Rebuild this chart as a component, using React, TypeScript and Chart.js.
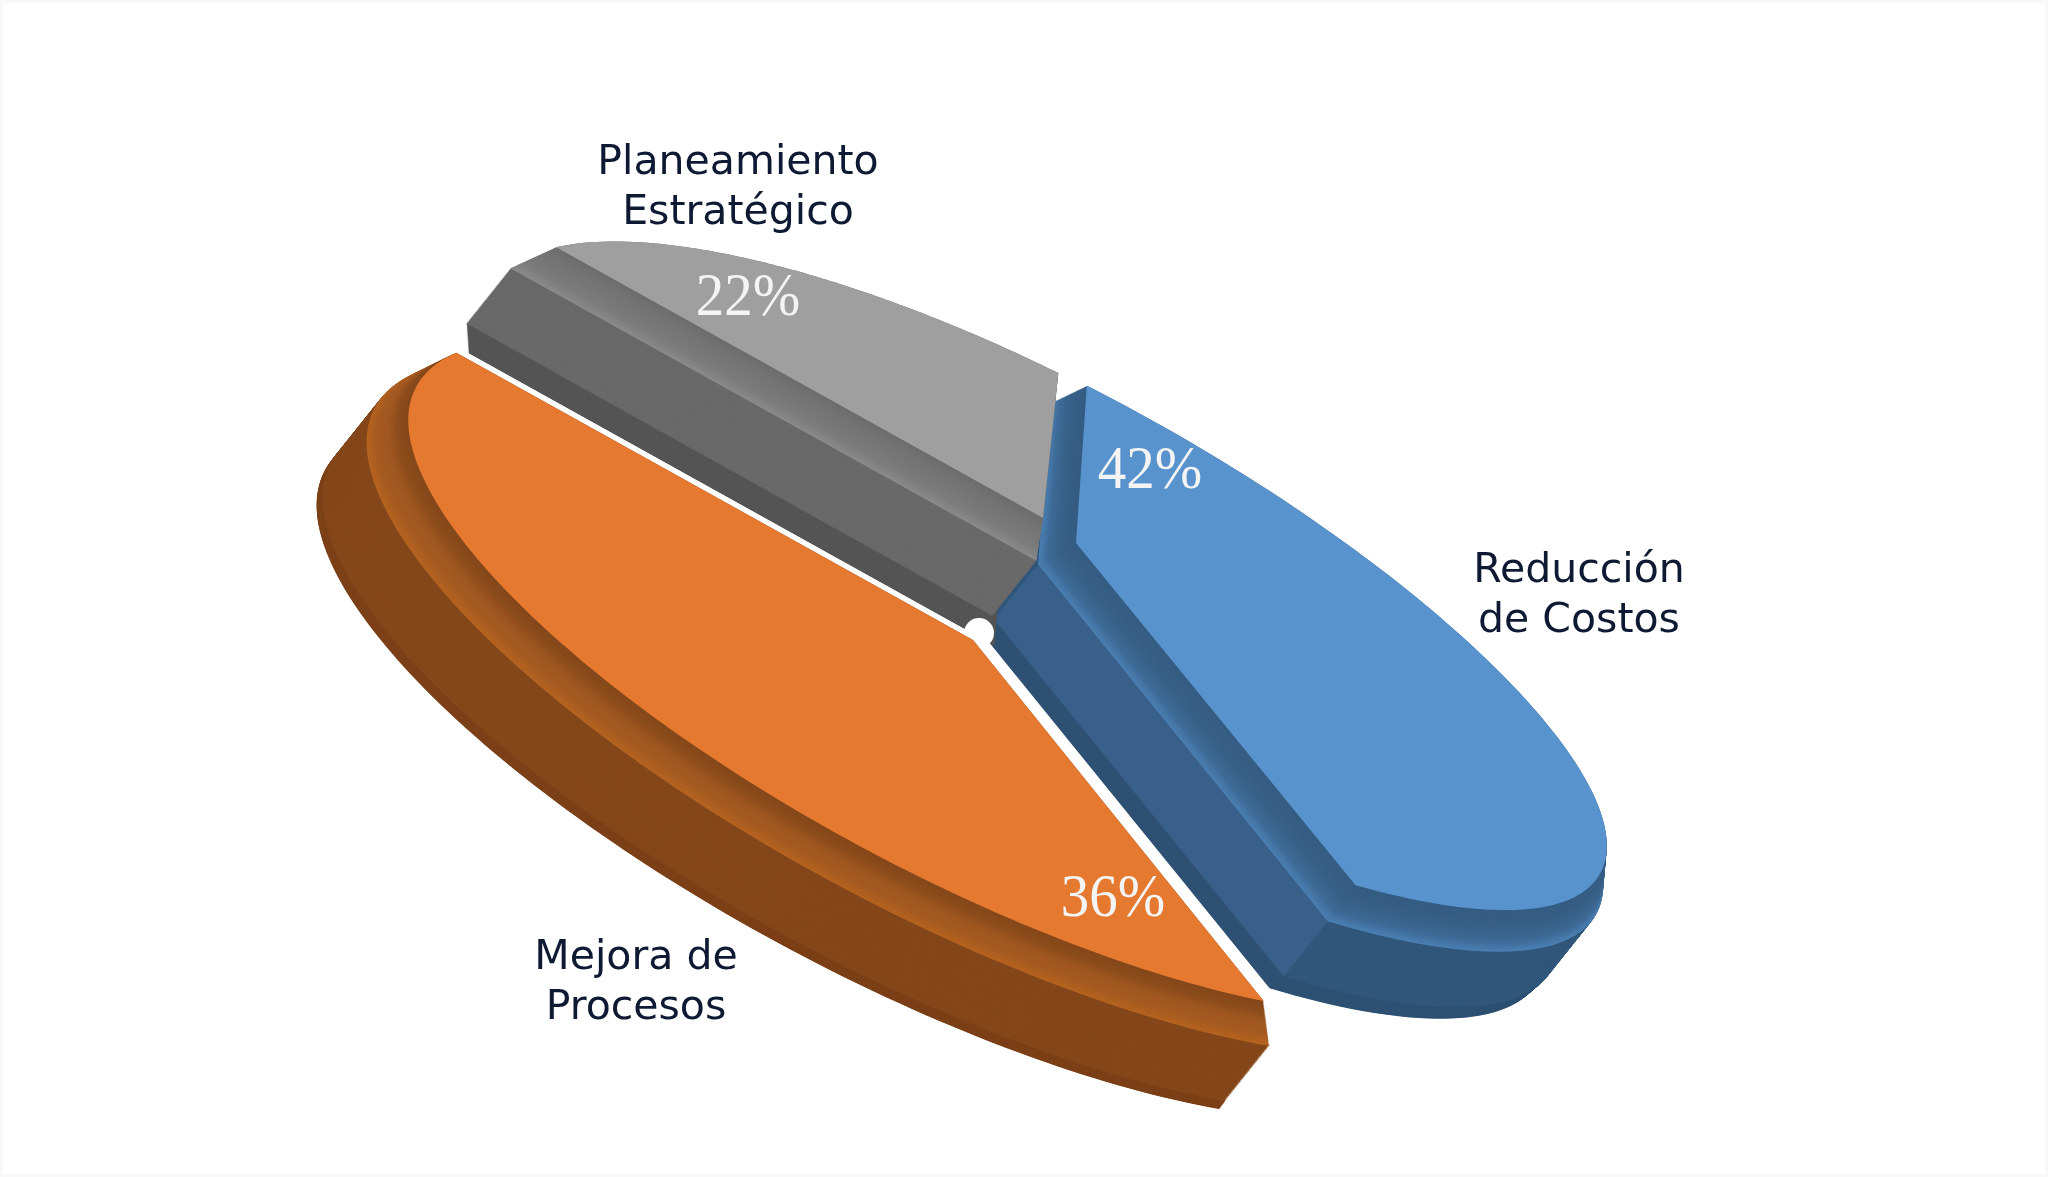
import { useEffect, useRef } from 'react';
import { Chart, registerables } from 'chart.js';

Chart.register(...registerables);

const categories = ['Reducción de Costos', 'Mejora de Procesos', 'Planeamiento Estratégico'];
const shares = [42, 36, 22];

// outer labels split on two lines, centre x and line y
const labelLines = [['Reducción', 'de Costos'], ['Mejora de', 'Procesos'], ['Planeamiento', 'Estratégico']];
const labelSpots = [[1579, 571], [636, 958], [738, 163]];
const percentSpots = [[1150, 472], [1113, 900], [748, 299]];

const faceColors = ['#5893cd', '#e57930', '#9f9f9f'];
const wallColors = ['#31577b', '#84471a', '#696969'];
const sideColors = ['#38608a', '#84471a', '#696969'];
const baseColors = ['#2e5173', '#7c4018', '#555555'];
const bevelRamps = [
  ['#4a7fb3', '#3d6a96', '#38628a', '#365e85', '#355c82'],
  ['#b5631f', '#a55a20', '#a05720', '#8c4c1b', '#84471a'],
  ['#8a8a8a', '#7c7c7c', '#777777', '#737373', '#6c6c6c'],
];
// where the tip of each slice's top face lands on the page
const faceTips = [[1076, 543], [973, 640], [1043, 518]];
const drawOrder = [0, 2, 1];

// tilted view of each slice: linear part plus perspective divide
const views = [
  { a: 526, b: -15.6, c: 271.7, d: 188, gx: -0.06, gy: -0.1632 },
  { a: 553, b: -17.3, c: 266, d: 207, gx: 0.038, gy: -0.2286 },
  { a: 531, b: -16.6, c: 255.6, d: 198.9, gx: 0.0652, gy: -0.2656 },
];
const inset = 0.03;
const bevelDepth = [-22, 28];
const wallDepth = [-44, 55];
const baseDepths = [[-14, 12], [-6, 8], [2, 30]];

function project(view: any, px: number, py: number) {
  const w = 1 + view.gx * px + view.gy * py;
  return [(view.a * px + view.b * py) / w, (view.c * px + view.d * py) / w];
}

function wedge(start: number, end: number, cut: number) {
  const half = (end - start) / 2;
  const mid = start + half;
  const k = cut / Math.sin(half);
  const pts = [[Math.cos(mid) * k, Math.sin(mid) * k]];
  const r = 1 - cut;
  const skip = Math.asin(cut / r);
  const n = 120;
  for (let i = 0; i <= n; i++) {
    const t = start + skip + ((end - start - 2 * skip) * i) / n;
    pts.push([Math.cos(t) * r, Math.sin(t) * r]);
  }
  return pts;
}

function fillWedge(ctx: CanvasRenderingContext2D, view: any, pts: number[][], ox: number, oy: number, color: string) {
  ctx.beginPath();
  pts.forEach((p, i) => {
    const q = project(view, p[0], p[1]);
    if (i === 0) ctx.moveTo(q[0] + ox, q[1] + oy);
    else ctx.lineTo(q[0] + ox, q[1] + oy);
  });
  ctx.closePath();
  ctx.fillStyle = color;
  ctx.fill();
}

function mixRamp(ramp: string[], t: number) {
  const at = t * (ramp.length - 1);
  const lo = Math.min(ramp.length - 2, Math.floor(at));
  const f = at - lo;
  const rgb = [1, 3, 5].map(n => {
    const x = parseInt(ramp[lo].slice(n, n + 2), 16);
    const y = parseInt(ramp[lo + 1].slice(n, n + 2), 16);
    return Math.round(x + (y - x) * f);
  });
  return `rgb(${rgb[0]},${rgb[1]},${rgb[2]})`;
}

const tiltedPie = {
  id: 'tiltedPie',
  beforeDatasetsDraw(chart: any) {
    const ctx = chart.ctx;
    const arcs = chart.getDatasetMeta(0).data;
    drawOrder.forEach(i => {
      const arc = arcs[i];
      const view = views[i];
      const face = wedge(arc.startAngle, arc.endAngle, inset);
      const outer = wedge(arc.startAngle, arc.endAngle, 0);
      const tip = project(view, face[0][0], face[0][1]);
      const ax = faceTips[i][0] - tip[0];
      const ay = faceTips[i][1] - tip[1];
      const bx = ax + bevelDepth[0];
      const by = ay + bevelDepth[1];
      const wx = bx + wallDepth[0];
      const wy = by + wallDepth[1];

      // white seam along the straight sides of the front slice, and the gap at its tip
      if (i === 1) {
        const a = project(view, face[1][0], face[1][1]);
        const b = project(view, face[face.length - 1][0], face[face.length - 1][1]);
        ctx.beginPath();
        ctx.moveTo(a[0] + ax, a[1] + ay);
        ctx.lineTo(tip[0] + ax, tip[1] + ay);
        ctx.lineTo(b[0] + ax, b[1] + ay);
        ctx.strokeStyle = '#ffffff';
        ctx.lineWidth = 11;
        ctx.stroke();
        ctx.beginPath();
        ctx.arc(tip[0] + ax + 6, tip[1] + ay - 7, 15, 0, Math.PI * 2);
        ctx.fillStyle = '#ffffff';
        ctx.fill();
      }

      const base = baseDepths[i];
      for (let s = 30; s >= 0; s--) {
        fillWedge(ctx, view, outer, wx + (base[0] * s) / 30, wy + (base[1] * s) / 30, baseColors[i]);
      }
      for (let s = 70; s >= 0; s--) {
        fillWedge(ctx, view, outer, bx + (wallDepth[0] * s) / 70, by + (wallDepth[1] * s) / 70, wallColors[i]);
      }
      // straight end of the slice, a little lighter than its rounded wall
      const corner = project(view, outer[outer.length - 1][0], outer[outer.length - 1][1]);
      ctx.beginPath();
      ctx.moveTo(bx, by);
      ctx.lineTo(corner[0] + bx, corner[1] + by);
      ctx.lineTo(corner[0] + wx, corner[1] + wy);
      ctx.lineTo(wx, wy);
      ctx.closePath();
      ctx.fillStyle = sideColors[i];
      ctx.fill();

      const steps = 40;
      for (let s = 0; s <= steps; s++) {
        const t = s / steps;
        const pts = wedge(arc.startAngle, arc.endAngle, inset * t);
        fillWedge(ctx, view, pts, ax + bevelDepth[0] * (1 - t), ay + bevelDepth[1] * (1 - t), mixRamp(bevelRamps[i], t));
      }
      fillWedge(ctx, view, face, ax, ay, faceColors[i]);
    });
    return false;
  },
  afterDraw(chart: any) {
    const ctx = chart.ctx;
    ctx.textAlign = 'center';
    ctx.textBaseline = 'middle';
    ctx.font = '41px "DejaVu Sans"';
    ctx.fillStyle = '#0e1a33';
    labelLines.forEach((lines, i) => {
      lines.forEach((line, j) => ctx.fillText(line, labelSpots[i][0], labelSpots[i][1] + j * 50));
    });
    ctx.font = '57px "Liberation Serif"';
    ctx.fillStyle = '#f4f4f4';
    shares.forEach((v, i) => {
      ctx.save();
      ctx.translate(percentSpots[i][0], percentSpots[i][1]);
      ctx.scale(1, 1.09);
      ctx.fillText(v + '%', 0, 0);
      ctx.restore();
    });
  },
};

export default function App() {
  const canvasRef = useRef<HTMLCanvasElement>(null);

  useEffect(() => {
    if (!canvasRef.current) return;
    const chart = new Chart(canvasRef.current, {
      type: 'pie',
      data: { labels: categories, datasets: [{ data: shares, backgroundColor: faceColors, borderWidth: 0 }] },
      options: {
        animation: false,
        responsive: false,
        devicePixelRatio: 1,
        plugins: { legend: { display: false }, tooltip: { enabled: false } },
      },
      plugins: [tiltedPie],
    });
    return () => chart.destroy();
  }, []);

  return (
    <div style={{ position: 'fixed', left: 0, top: 0, width: 2048, height: 1177, background: '#fff', boxSizing: 'border-box', border: '3px solid #f8f8f8' }}>
      <canvas ref={canvasRef} width={2048} height={1177} style={{ position: 'absolute', left: -3, top: -3 }} />
    </div>
  );
}
